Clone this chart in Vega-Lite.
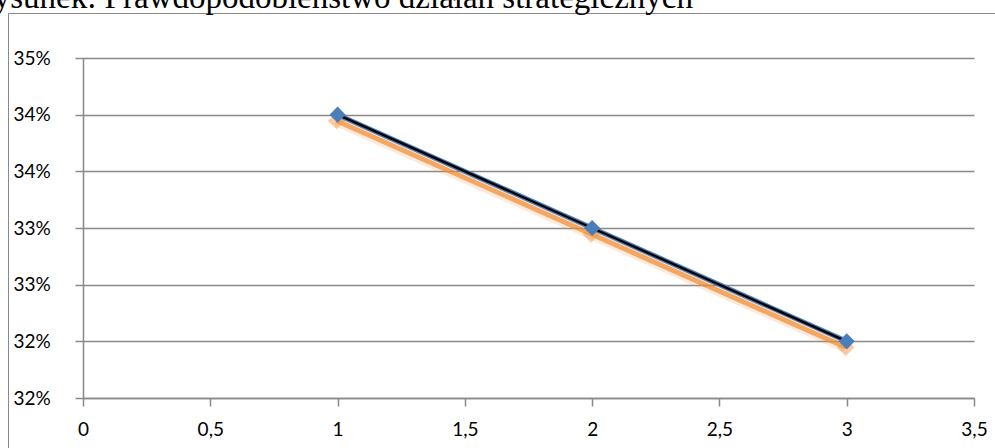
{
  "$schema": "https://vega.github.io/schema/vega-lite/v6.json",
  "autosize": {"type": "none"},
  "width": 987,
  "height": 435,
  "padding": {"left": 8, "top": 13, "right": 0, "bottom": 0},
  "background": "white",
  "title": {
    "text": "Rysunek: Prawdopodobieństwo działań strategicznych",
    "anchor": "start",
    "frame": "group",
    "font": "Liberation Serif",
    "fontSize": 33,
    "fontWeight": "normal",
    "color": "black",
    "offset": -2,
    "dx": -35
  },
  "config": {
    "view": {"stroke": "#898989", "strokeWidth": 1},
    "axis": {
      "labelFont": "Lato",
      "labelFontSize": 19,
      "labelColor": "black",
      "domainColor": "#898989",
      "domainWidth": 1.5,
      "tickColor": "#898989",
      "tickWidth": 1.5,
      "tickSize": 8,
      "gridColor": "#898989",
      "gridWidth": 1.5,
      "title": null
    }
  },
  "data": {
    "values": [
      {"x": 1, "p": 0.345},
      {"x": 2, "p": 0.335},
      {"x": 3, "p": 0.325}
    ]
  },
  "encoding": {
    "x": {
      "field": "x",
      "type": "quantitative",
      "scale": {"domain": [0, 3.5], "nice": false, "zero": false, "range": [75, 966]},
      "axis": {
        "values": [0, 0.5, 1, 1.5, 2, 2.5, 3, 3.5],
        "grid": false,
        "offset": -50,
        "labelExpr": "replace(format(datum.value, '.1~f'), '.', ',')",
        "labelPadding": 14,
        "labelBaseline": "top",
        "labelFlush": false
      }
    },
    "y": {
      "field": "p",
      "type": "quantitative",
      "scale": {"domain": [0.32, 0.35], "nice": false, "zero": false, "range": [385, 45]},
      "axis": {
        "values": [0.32, 0.325, 0.33, 0.335, 0.34, 0.345, 0.35],
        "grid": true,
        "offset": -75,
        "labelExpr": "floor(datum.value * 100 + 0.000001) + '%'",
        "labelAlign": "left",
        "labelPadding": 62,
        "labelBaseline": "middle",
        "labelFlush": false
      }
    }
  },
  "layer": [
    {"mark": {"type": "line", "color": "#f79646", "strokeWidth": 11, "opacity": 0.2, "xOffset": -1, "yOffset": 6}},
    {"mark": {"type": "line", "color": "#f08a30", "strokeWidth": 5, "opacity": 0.7, "xOffset": -1, "yOffset": 6}},
    {"mark": {"type": "point", "shape": "diamond", "filled": true, "color": "#f79646", "size": 300, "opacity": 0.5, "xOffset": -1, "yOffset": 6}},
    {"mark": {"type": "line", "color": "#4a7ebb", "strokeWidth": 5}},
    {"mark": {"type": "line", "color": "#000000", "strokeWidth": 2.4}},
    {"mark": {"type": "point", "shape": "diamond", "filled": true, "color": "#4a7ebb", "size": 260, "opacity": 1}}
  ]
}
